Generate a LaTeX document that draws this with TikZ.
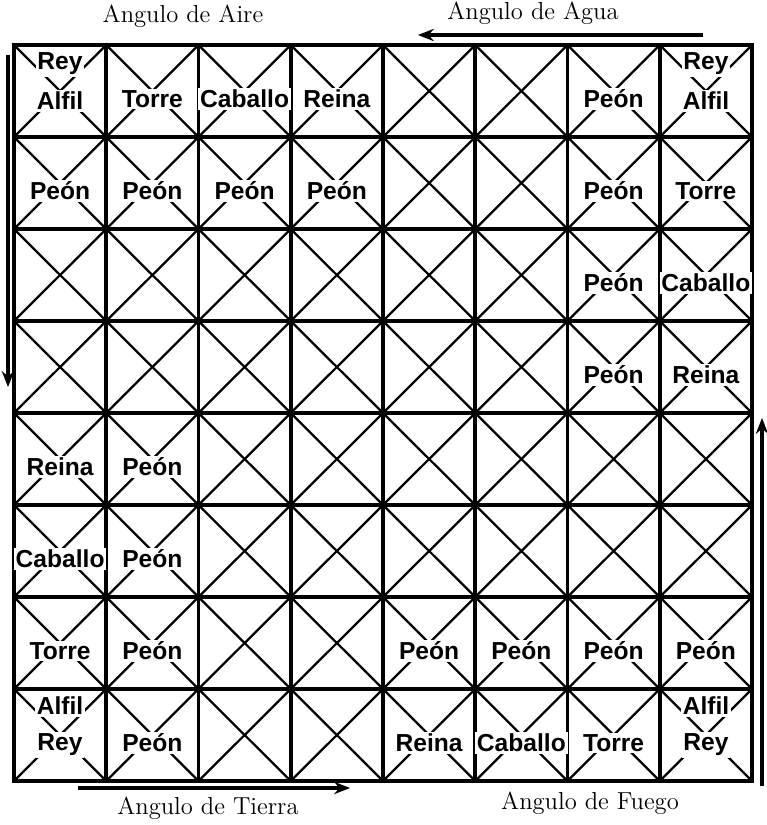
\documentclass[tikz,border=0pt]{standalone}
\usepackage{fontspec}
\newfontfamily\handfont{Liberation Sans}
\usetikzlibrary{arrows.meta}

\tikzset{
  grid line/.style={line width=2pt},
  cross line/.style={line width=1.3pt},
  piece/.style={font=\handfont\bfseries\fontsize{14}{16}\selectfont, fill=white, inner sep=1pt},
  corner/.style={font=\fontsize{14}{16}\selectfont},
  turn/.style={line width=1.8pt, -{Stealth[length=9pt, width=7pt]}}
}

\begin{document}
\begin{tikzpicture}[x=0.02cm, y=-0.02cm]
    \useasboundingbox (0,0) rectangle (767,825);
    % cell crosses
    \foreach \i in {0,...,7}
        \foreach \j in {0,...,7} {
            \draw[cross line] ({14+92.25*\i},{45+92*\j}) -- ++(92.25,92);
            \draw[cross line] ({14+92.25*(\i+1)},{45+92*\j}) -- ++(-92.25,92);
        }
    % board
    \foreach \i in {1,...,7} {
        \draw[grid line] ({14+92.25*\i},45) -- ({14+92.25*\i},781);
        \draw[grid line] (14,{45+92*\i}) -- (752,{45+92*\i});
    }
    \draw[line width=2.5pt] (14,45) rectangle (752,781);
    % pieces: column/row/name
    \foreach \c/\r/\t in {2/1/Torre, 3/1/Caballo, 4/1/Reina, 7/1/Peón,
                          1/2/Peón, 2/2/Peón, 3/2/Peón, 4/2/Peón, 7/2/Peón, 8/2/Torre,
                          7/3/Peón, 8/3/Caballo, 7/4/Peón, 8/4/Reina,
                          1/5/Reina, 2/5/Peón, 1/6/Caballo, 2/6/Peón,
                          1/7/Torre, 2/7/Peón, 5/7/Peón, 6/7/Peón, 7/7/Peón, 8/7/Peón,
                          2/8/Peón, 5/8/Reina, 6/8/Caballo, 7/8/Torre}
        \node[piece] (pc\c r\r) at ({14+92.25*(\c-0.5)},{45+92*(\r-0.5)+8}) {\t};
    % shared cells
    \node[piece] (rey1) at (60,64) {Rey};
    \node[piece] (alfil1) at (60,101) {Alfil};
    \node[piece] (rey8) at (706,64) {Rey};
    \node[piece] (alfil8) at (706,101) {Alfil};
    \node[piece] (alfil2) at (60,706) {Alfil};
    \node[piece] (rey2) at (60,745) {Rey};
    \node[piece] (alfil7) at (706,706) {Alfil};
    \node[piece] (rey7) at (706,745) {Rey};
    % corners
    \node[corner] (aire) at (183,16) {Angulo de Aire};
    \node[corner] (agua) at (533,13) {Angulo de Agua};
    \node[corner] (tierra) at (208,808) {Angulo de Tierra};
    \node[corner] (fuego) at (590,803) {Angulo de Fuego};
    % turns
    \coordinate (a0) at (703,35);  \coordinate (a1) at (418,35);
    \coordinate (b0) at (8,55);    \coordinate (b1) at (8,387);
    \coordinate (c0) at (78,788);  \coordinate (c1) at (350,788);
    \coordinate (d0) at (762,786); \coordinate (d1) at (762,418);
    \draw[turn] (a0) -- (a1);
    \draw[turn] (b0) -- (b1);
    \draw[turn] (c0) -- (c1);
    \draw[turn] (d0) -- (d1);
\end{tikzpicture}
\end{document}
